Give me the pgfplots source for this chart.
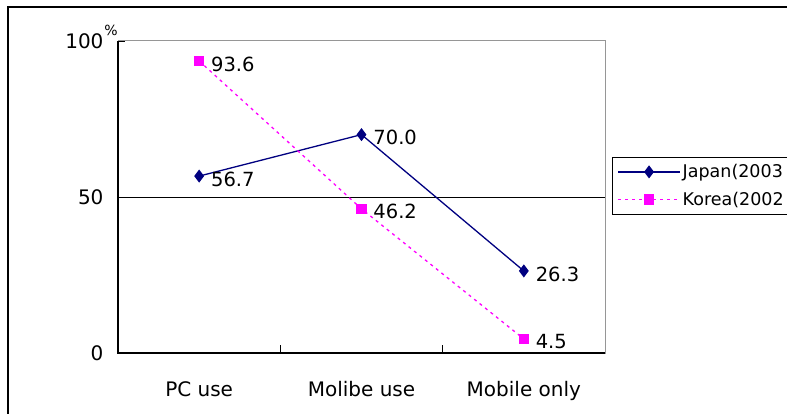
\documentclass[border=0pt]{standalone}
\usepackage{fontspec}
\setmainfont{DejaVu Sans}
\usepackage{pgfplots}
\pgfplotsset{compat=1.18}
\definecolor{navyJ}{RGB}{0,0,128}
\definecolor{magK}{RGB}{255,0,255}
\definecolor{frameGray}{RGB}{150,150,150}
\begin{document}
\begin{tikzpicture}
\useasboundingbox (0,0) rectangle (787pt,-414pt);
\clip (0,0) rectangle (787pt,-414pt);
\draw[black, line width=1.2pt] (8pt,-7pt) rectangle (820pt,-440pt);
\begin{axis}[
  at={(118pt,-353pt)}, anchor=south west,
  scale only axis, width=487pt, height=312pt,
  xmin=-0.5, xmax=2.5, ymin=0, ymax=100,
  /pgf/number format/assume math mode=true,
  axis line style={draw=frameGray, line width=1pt},
  xtick={0,1,2},
  xticklabels={PC use, Molibe use, Mobile only},
  minor xtick={0.5,1.5},
  major x tick style={draw=none},
  minor tick length=8pt,
  major tick length=7pt,
  tick align=inside,
  tick style={black, line width=0.8pt},
  xtick pos=bottom, ytick pos=left,
  ytick={0,100},
  extra y ticks={50},
  extra y tick style={grid=major, major grid style={black, line width=0.8pt}},
  ticklabel style={font=\fontsize{20}{22}\selectfont, text=black},
  yticklabel style={xshift=-11pt},
  xticklabel style={yshift=-25pt},
  legend style={at={(1.0144,0.628)}, anchor=north west, draw=black, line width=0.8pt,
    font=\fontsize{17.5}{20}\selectfont, row sep=9pt, inner sep=5pt},
  legend cell align=left,
  legend image code/.code={\draw[mark repeat=2,mark phase=2,#1] plot coordinates {(0pt,0pt) (31pt,0pt) (62pt,0pt)};},
  nodes near coords={\pgfmathprintnumber[fixed,fixed zerofill,precision=1]{\pgfplotspointmeta}},
  every node near coord/.append style={anchor=west, xshift=8pt, yshift=-3pt,
    font=\fontsize{19.5}{22}\selectfont, text=black},
  clip=false,
]
\addplot[navyJ, line width=1.3pt, mark=diamond*, mark size=5.5pt, mark options={solid, fill=navyJ}]
  coordinates {(0,56.7) (1,70.0) (2,26.3)};
\addlegendentry{Japan(2003}
\addplot[magK, line width=1.3pt, dash pattern=on 3pt off 4pt, mark=square*, mark size=4.5pt, mark options={solid, fill=magK}]
  coordinates {(0,93.6) (1,46.2) (2,4.5)};
\addlegendentry{Korea(2002}
\draw[black, line width=1.3pt] (rel axis cs:0,1) -- (rel axis cs:0,0) -- (rel axis cs:1,0);
\node[font=\fontsize{14}{15}\selectfont] at (rel axis cs:-0.0144,1.035) {\%};
\end{axis}
\end{tikzpicture}
\end{document}
